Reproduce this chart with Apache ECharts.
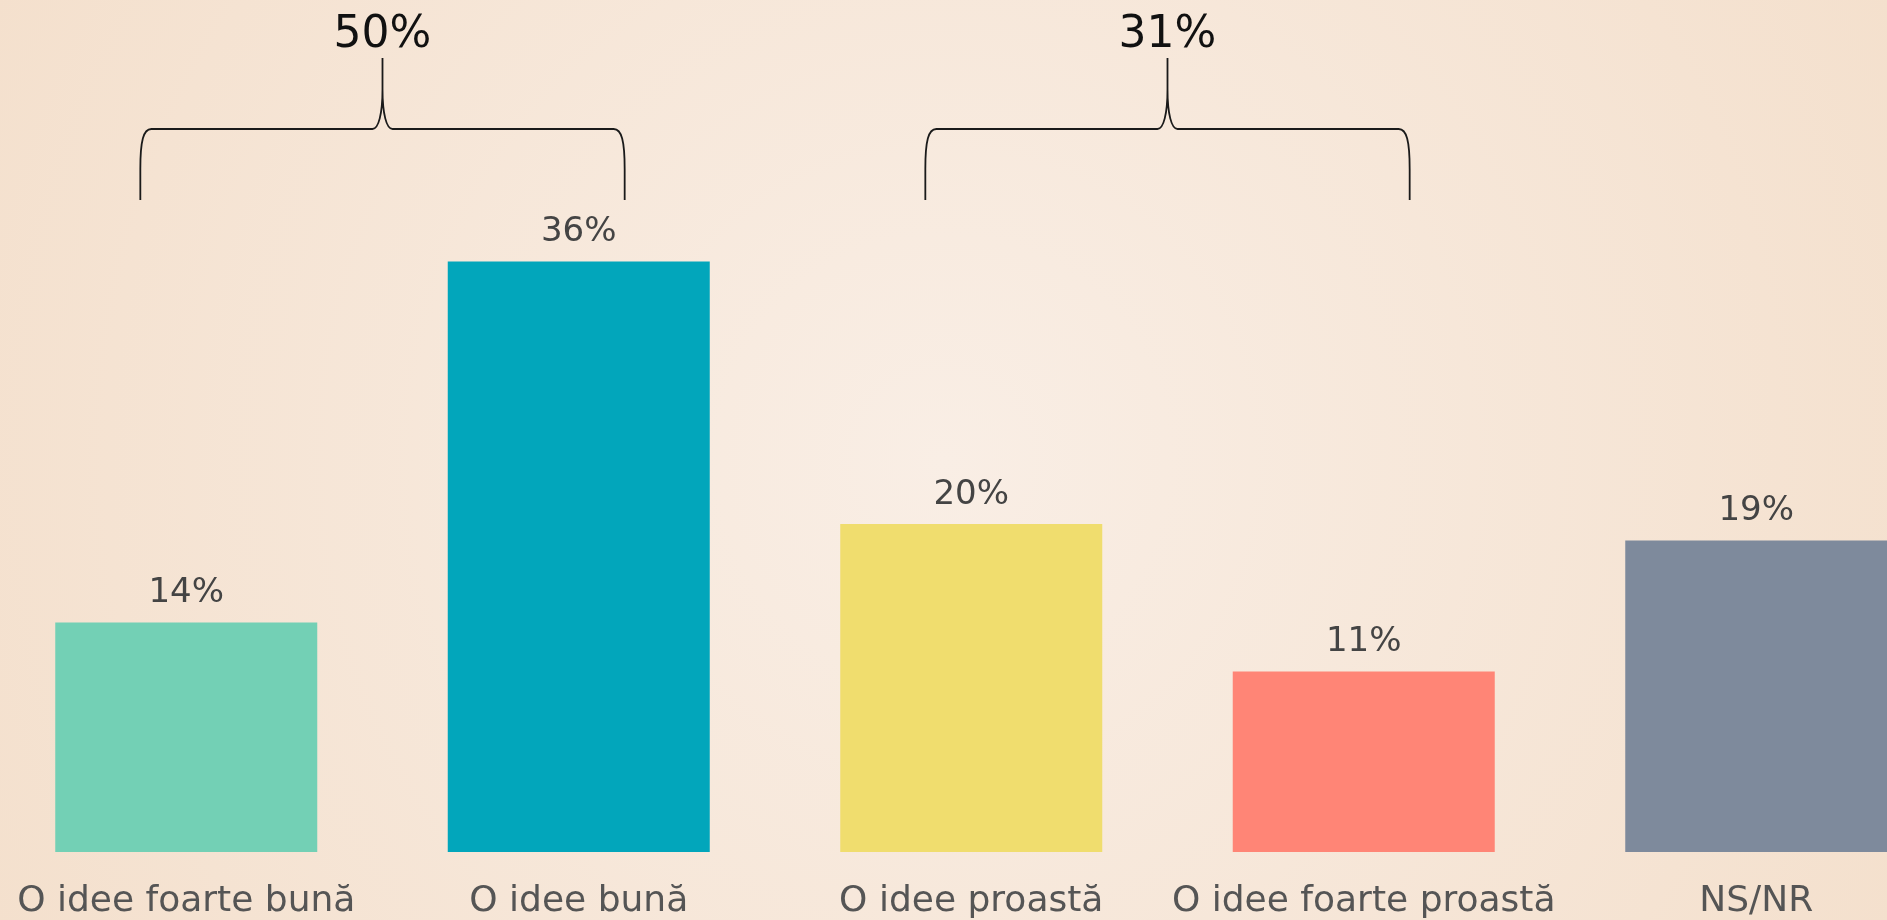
<!DOCTYPE html>
<html>
<head>
<meta charset="utf-8">
<script src="https://cdn.jsdelivr.net/npm/echarts@6/dist/echarts.min.js"></script>
<style>
  html, body { margin: 0; padding: 0; }
  #chart { width: 1887px; height: 920px; }
</style>
</head>
<body>
<div id="chart"></div>
<script>
const categories = ["O idee foarte bună", "O idee bună", "O idee proastă", "O idee foarte proastă", "NS/NR"];
const values = [14, 36, 20, 11, 19];
const barColors = ["#73d0b5", "#02a6bb", "#f0dd6e", "#ff8576", "#7e8a9c"];

// acolade peste grupuri de bare
const groupStart = [0, 2];
const groupEnd = [1, 3];
const groupTotals = [50, 31];

const chart = echarts.init(document.getElementById("chart"), undefined, { renderer: "canvas" });

const FONT = "DejaVu Sans";

const option = {
    animation: false,
    backgroundColor: {
        type: "radial",
        x: 0.5,
        y: 0.5,
        r: 1.15,
        colorStops: [
            { offset: 0, color: "#f9eee5" },
            { offset: 1, color: "#f4e0cd" },
        ],
    },
    textStyle: { fontFamily: FONT },
    grid: { left: -10, width: 1962.5, top: 32, bottom: 68, outerBoundsMode: "none" },
    xAxis: {
        type: "category",
        data: categories,
        axisLine: { show: false },
        axisTick: { show: false },
        axisLabel: { color: "#555555", fontSize: 36, margin: 32, interval: 0, fontFamily: FONT },
    },
    yAxis: {
        type: "value",
        min: 0,
        max: 50,
        show: false,
        splitLine: { show: false },
    },
    series: [
        {
            type: "bar",
            barWidth: 262,
            data: values.map((v, i) => ({ value: v, itemStyle: { color: barColors[i] } })),
            label: {
                show: true,
                position: "top",
                distance: 12,
                color: "#444444",
                fontSize: 34,
                fontFamily: FONT,
                formatter: "{c}%",
            },
        },
        {
            type: "custom",
            data: groupStart.map((s, i) => [s, groupEnd[i], groupTotals[i]]),
            renderItem: (params, api) => {
                const x0 = api.coord([api.value(0), 0])[0];
                const x1 = api.coord([api.value(1), 0])[0];
                const band = api.size([1, 0])[0];
                const ext = band * 0.117;
                const L = x0 - ext;
                const R = x1 + ext;
                const c = (L + R) / 2;
                const yLeg = 200, yBar = 129, yTop = 58;
                const d =
                    `M${L},${yLeg} L${L},${yBar + 40} C${L},${yBar + 12} ${L + 3},${yBar} ${L + 11},${yBar} ` +
                    `L${c - 10},${yBar} C${c - 4},${yBar} ${c},${yBar - 15} ${c},${yBar - 40} L${c},${yTop} ` +
                    `M${c},${yBar - 40} C${c},${yBar - 15} ${c + 4},${yBar} ${c + 10},${yBar} ` +
                    `L${R - 11},${yBar} C${R - 3},${yBar} ${R},${yBar + 12} ${R},${yBar + 40} L${R},${yLeg}`;
                return {
                    type: "group",
                    children: [
                        {
                            type: "path",
                            shape: { pathData: d },
                            style: { fill: null, stroke: "#1a1a1a", lineWidth: 1.8 },
                        },
                        {
                            type: "text",
                            x: c,
                            y: 36,
                            style: {
                                text: api.value(2) + "%",
                                fill: "#111111",
                                font: `44px "${FONT}"`,
                                align: "center",
                                verticalAlign: "middle",
                            },
                        },
                    ],
                };
            },
            silent: true,
            z: 10,
        },
    ],
};

chart.setOption(option);
</script>
</body>
</html>
